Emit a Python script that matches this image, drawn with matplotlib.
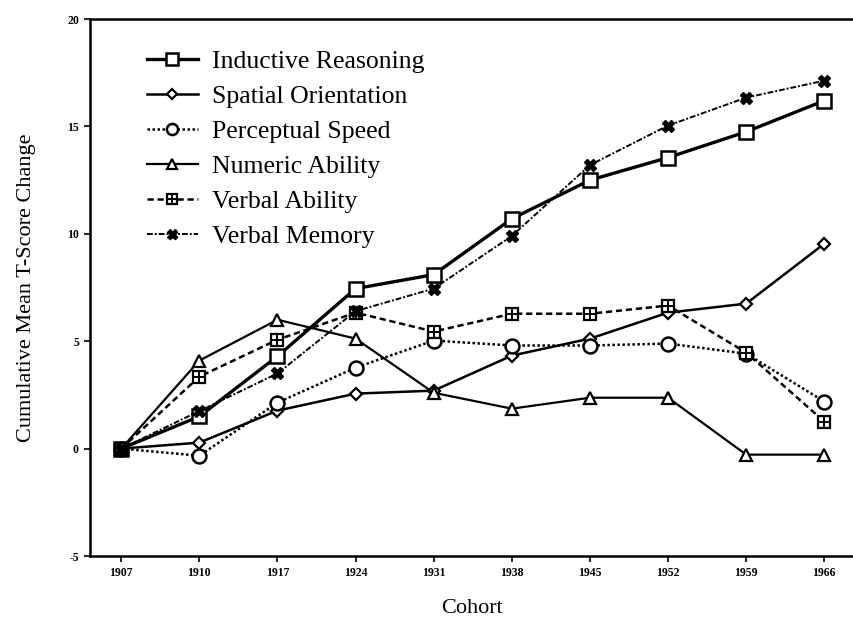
import matplotlib
matplotlib.use("Agg")
import matplotlib.pyplot as plt
from matplotlib.legend_handler import HandlerTuple

cohorts = ["1907", "1910", "1917", "1924", "1931", "1938", "1945", "1952", "1959", "1966"]
inductive = [0, 1.5, 4.3, 7.45, 8.1, 10.7, 12.5, 13.55, 14.75, 16.2]
spatial = [0, 0.28, 1.77, 2.56, 2.7, 4.33, 5.12, 6.33, 6.75, 9.54]
perceptual = [0, -0.33, 2.14, 3.77, 5.03, 4.8, 4.8, 4.89, 4.42, 2.19]
numeric = [0, 4.1, 6.0, 5.12, 2.6, 1.86, 2.37, 2.37, -0.28, -0.28]
verbal_ability = [0, 3.35, 5.07, 6.33, 5.45, 6.28, 6.28, 6.66, 4.47, 1.26]
verbal_memory = [0, 1.75, 3.5, 6.4, 7.45, 9.9, 13.2, 15.04, 16.34, 17.13]
yticks = [-5, 0, 5, 10, 15, 20]

plt.rcParams['font.family'] = ['Liberation Serif', 'DejaVu Serif']

fig = plt.figure(figsize=(8.54, 6.23), dpi=100)
ax = fig.add_axes([0.1054, 0.1075, 0.8946, 0.862])
x = list(range(len(cohorts)))

h1, = ax.plot(x, inductive, '-', color='black', lw=2.4, marker='s', ms=10,
              mfc='white', mec='black', mew=1.8, zorder=5)
h2, = ax.plot(x, spatial, '-', color='black', lw=1.8, marker='D', ms=6,
              mfc='white', mec='black', mew=1.6, zorder=5)
h3, = ax.plot(x, perceptual, color='black', lw=1.8, ls=(0, (1, 1)), marker='o', ms=10,
              mfc='white', mec='black', mew=1.8, zorder=5)
h4, = ax.plot(x, numeric, '-', color='black', lw=1.6, marker='^', ms=9,
              mfc='white', mec='black', mew=1.6, zorder=5)
h5, = ax.plot(x, verbal_ability, color='black', lw=1.8, ls=(0, (2.5, 1.5)), marker='s', ms=9,
              mfc='white', mec='black', mew=1.6, zorder=5)
h5b, = ax.plot(x, verbal_ability, ls='none', marker='+', ms=8, mec='black', mew=1.4, zorder=6)
h6, = ax.plot(x, verbal_memory, color='black', lw=1.4, ls=(0, (3, 1, 1, 1)), marker='X', ms=9,
              mfc='black', mec='black', mew=1.0, zorder=5)

ax.set_xlim(-0.4, 9.38)
ax.set_ylim(-5, 20)
ax.set_xticks(x)
ax.set_xticklabels(cohorts, fontsize=8.5, fontweight='bold')
ax.set_yticks(yticks)
ax.set_yticklabels([str(v) for v in yticks], fontsize=8.5, fontweight='bold')
ax.tick_params(axis='both', direction='out', length=4, width=1.2, pad=4)
ax.spines['right'].set_visible(False)
for s in ['left', 'top', 'bottom']:
    ax.spines[s].set_linewidth(1.8)

ax.set_ylabel("Cumulative Mean T-Score Change", fontsize=16, labelpad=22)
ax.set_xlabel("Cohort", fontsize=16, labelpad=14)

leg = ax.legend([h1, h2, h3, h4, (h5, h5b), h6],
                ["Inductive Reasoning", "Spatial Orientation", "Perceptual Speed",
                 "Numeric Ability", "Verbal Ability", "Verbal Memory"],
                handler_map={tuple: HandlerTuple(ndivide=1, pad=0)},
                loc='upper left', bbox_to_anchor=(0.044, 0.985), frameon=False,
                fontsize=18.5, handlelength=2.0, labelspacing=0.47, markerscale=0.8,
                handletextpad=0.55)

fig.savefig("out.png", dpi=100)
